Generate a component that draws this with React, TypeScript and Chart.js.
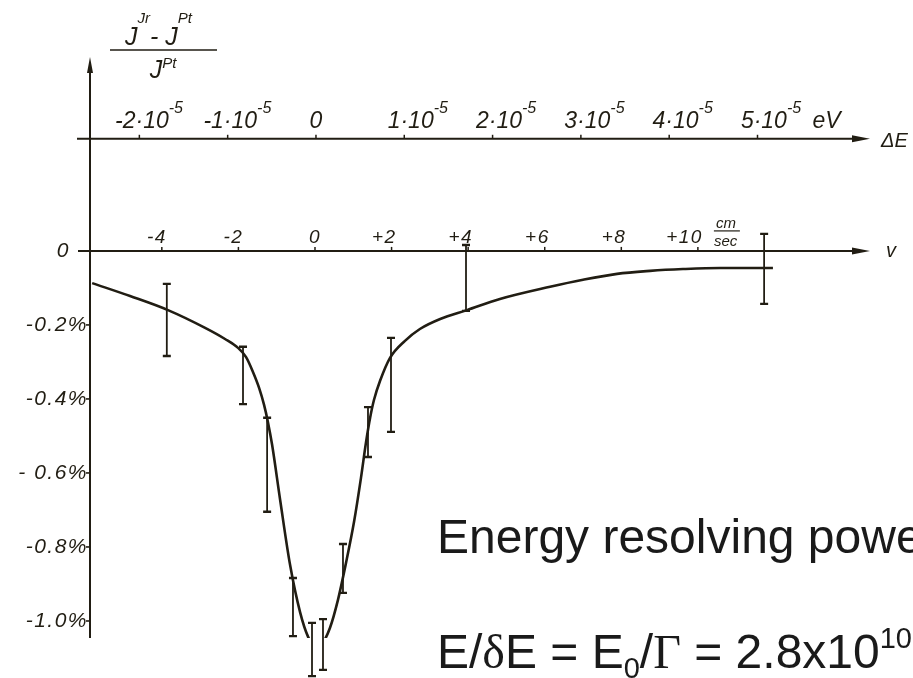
import { useEffect, useRef } from "react";
import { Chart, registerables } from "chart.js";

Chart.register(...registerables);

// Resonance absorption curve: relative intensity change (%) versus source velocity v (cm/sec)
const curveV = [
  -5.82, -4.83, -3.84, -2.87, -2.35, -2.01, -1.8, -1.62, -1.46, -1.33, -1.23, -1.12,
  -0.91, -0.65, -0.39, -0.18, 0.0, 0.18, 0.39, 0.6, 0.81, 1.02, 1.2, 1.33, 1.44, 1.54,
  1.7, 1.96, 2.35, 2.74, 3.27, 3.97, 4.83, 6.14, 7.0, 7.89, 8.75, 9.61, 10.58, 11.96,
];
const curvePct = [
  -0.087, -0.122, -0.16, -0.208, -0.238, -0.262, -0.287, -0.327, -0.37, -0.416, -0.462,
  -0.524, -0.673, -0.849, -0.976, -1.043, -1.07, -1.062, -1.019, -0.943, -0.843, -0.732,
  -0.614, -0.519, -0.451, -0.403, -0.351, -0.289, -0.243, -0.211, -0.184, -0.16, -0.13,
  -0.097, -0.078, -0.062, -0.054, -0.049, -0.046, -0.046,
];

// Measured points with their error bars
const barV = [-3.87, -1.88, -1.25, -0.575, -0.078, 0.209, 0.731, 1.384, 1.985, 3.944, 11.73];
const barHigh = [-0.089, -0.259, -0.451, -0.884, -1.005, -0.995, -0.792, -0.422, -0.235, 0.016, 0.046];
const barLow = [-0.284, -0.414, -0.705, -1.041, -1.149, -1.132, -0.924, -0.557, -0.489, -0.162, -0.143];

// Axis ticks
const velocityTicks = [-4, -2, 0, 2, 4, 6, 8, 10];
const velocityLabels = ["-4", "-2", "0", "+2", "+4", "+6", "+8", "+10"];
const energyTicks = [-2, -1, 0, 1, 2, 3, 4, 5]; // in units of 10^-5 eV
const energyMantissa = ["-2", "-1", "0", "1", "2", "3", "4", "5"];
const pctTicks = [0, -0.2, -0.4, -0.6, -0.8, -1.0];
const pctLabels = ["0", "-0.2%", "-0.4%", "- 0.6%", "-0.8%", "-1.0%"];
const energyAxisLevel = 0.303; // % level where the ΔE axis is drawn

const INK = "#211d13";
const HAND = '"Liberation Sans", Arial, sans-serif';
const SLIDE = '"Liberation Sans", Arial, Helvetica, sans-serif';
const SERIF = '"Liberation Serif", "Times New Roman", serif';

type Run = { t: string; f: string; dy?: number };

function drawRuns(ctx: CanvasRenderingContext2D, x: number, y: number, runs: Run[]) {
  let cx = x;
  ctx.textAlign = "left";
  ctx.textBaseline = "alphabetic";
  for (const r of runs) {
    ctx.font = r.f;
    ctx.fillText(r.t, cx, y + (r.dy || 0));
    cx += ctx.measureText(r.t).width;
  }
  return cx - x;
}

function runsWidth(ctx: CanvasRenderingContext2D, runs: Run[]) {
  let w = 0;
  for (const r of runs) {
    ctx.font = r.f;
    w += ctx.measureText(r.t).width;
  }
  return w;
}

function arrowRight(ctx: CanvasRenderingContext2D, tipX: number, y: number) {
  ctx.beginPath();
  ctx.moveTo(tipX, y);
  ctx.lineTo(tipX - 18, y - 3.5);
  ctx.lineTo(tipX - 18, y + 3.5);
  ctx.closePath();
  ctx.fill();
}

const handAxes = {
  id: "handAxes",
  beforeDatasetsDraw(chart: any) {
    const ctx: CanvasRenderingContext2D = chart.ctx;
    const xs = chart.scales.x;
    const xe = chart.scales.xE;
    const ys = chart.scales.y;
    const area = chart.chartArea;
    ctx.save();
    ctx.strokeStyle = INK;
    ctx.fillStyle = INK;
    ctx.lineCap = "butt";

    // vertical axis with arrow
    const ax = area.left;
    ctx.lineWidth = 2;
    ctx.beginPath();
    ctx.moveTo(ax, area.bottom);
    ctx.lineTo(ax, area.top + 10);
    ctx.stroke();
    ctx.beginPath();
    ctx.moveTo(ax, area.top);
    ctx.lineTo(ax - 3, area.top + 16);
    ctx.lineTo(ax + 3, area.top + 16);
    ctx.closePath();
    ctx.fill();

    // percentage ticks and labels
    ctx.lineWidth = 1.6;
    pctTicks.forEach((v, i) => {
      const py = ys.getPixelForValue(v);
      if (v !== 0) {
        ctx.beginPath();
        ctx.moveTo(ax - 4, py);
        ctx.lineTo(ax, py);
        ctx.stroke();
      }
      ctx.font = `italic 21px ${HAND}`;
      (ctx as any).letterSpacing = "1.5px";
      ctx.textAlign = "right";
      ctx.textBaseline = "middle";
      ctx.fillText(pctLabels[i], v === 0 ? ax - 20 : ax - 2, py);
    });
    (ctx as any).letterSpacing = "0px";

    // velocity axis at zero
    const vy = ys.getPixelForValue(0);
    ctx.lineWidth = 2;
    ctx.beginPath();
    ctx.moveTo(ax - 12, vy);
    ctx.lineTo(area.right - 10, vy);
    ctx.stroke();
    arrowRight(ctx, area.right, vy);
    ctx.lineWidth = 1.5;
    velocityTicks.forEach((t, i) => {
      const px = xs.getPixelForValue(t);
      ctx.beginPath();
      ctx.moveTo(px, vy);
      ctx.lineTo(px, vy - 4);
      ctx.stroke();
      ctx.font = `italic 19px ${HAND}`;
      (ctx as any).letterSpacing = "1.5px";
      ctx.textBaseline = "alphabetic";
      if (t === 0) {
        ctx.textAlign = "center";
        ctx.fillText(velocityLabels[i], px, vy - 8);
      } else {
        ctx.textAlign = "right";
        ctx.fillText(velocityLabels[i], px + 5, vy - 8);
      }
    });
    (ctx as any).letterSpacing = "0px";
    // unit cm/sec as a small fraction after the last tick label
    const unitX = xs.getPixelForValue(10) + 16;
    ctx.font = `italic 15px ${HAND}`;
    ctx.textAlign = "left";
    ctx.fillText("cm", unitX + 2, vy - 23);
    ctx.fillText("sec", unitX, vy - 5);
    ctx.lineWidth = 1.2;
    ctx.beginPath();
    ctx.moveTo(unitX, vy - 20);
    ctx.lineTo(unitX + 26, vy - 20);
    ctx.stroke();
    ctx.font = `italic 20px ${HAND}`;
    ctx.fillText("v", area.right + 16, vy + 6);

    // energy axis
    const ey = ys.getPixelForValue(energyAxisLevel);
    ctx.lineWidth = 2;
    ctx.beginPath();
    ctx.moveTo(ax - 13, ey);
    ctx.lineTo(area.right - 10, ey);
    ctx.stroke();
    arrowRight(ctx, area.right, ey);
    ctx.lineWidth = 1.5;
    energyTicks.forEach((t, i) => {
      const px = xe.getPixelForValue(t);
      ctx.beginPath();
      ctx.moveTo(px, ey);
      ctx.lineTo(px, ey - 4);
      ctx.stroke();
      const main = `italic 23px ${HAND}`;
      const sup = `italic 16px ${HAND}`;
      if (t === 0) {
        ctx.font = main;
        ctx.textAlign = "center";
        ctx.fillText("0", px, ey - 11);
        return;
      }
      ctx.font = main;
      const lead = ctx.measureText(energyMantissa[i]).width + ctx.measureText("·").width / 2;
      drawRuns(ctx, px - lead, ey - 11, [
        { t: energyMantissa[i] + "·10", f: main },
        { t: "-5", f: sup, dy: -15 },
      ]);
    });
    ctx.font = `italic 23px ${HAND}`;
    ctx.textAlign = "left";
    ctx.fillText("eV", xe.getPixelForValue(5) + 55, ey - 11);
    ctx.font = `italic 20px ${HAND}`;
    ctx.fillText("ΔE", area.right + 11, ey + 8);

    // quantity on the vertical axis: (J^Ir - J^Pt) / J^Pt
    const big = `italic 25px ${HAND}`;
    const small = `italic 15px ${HAND}`;
    drawRuns(ctx, ax + 35, 45, [
      { t: "J", f: big },
      { t: "Jr", f: small, dy: -22 },
      { t: "- ", f: big },
      { t: "J", f: big },
      { t: "Pt", f: small, dy: -22 },
    ]);
    ctx.lineWidth = 1.5;
    ctx.beginPath();
    ctx.moveTo(ax + 20, 50);
    ctx.lineTo(ax + 127, 50);
    ctx.stroke();
    const den: Run[] = [
      { t: "J", f: big },
      { t: "Pt", f: small, dy: -10 },
    ];
    drawRuns(ctx, ax + 73 - runsWidth(ctx, den) / 2, 78, den);

    ctx.restore();
  },
  afterDatasetsDraw(chart: any) {
    const ctx: CanvasRenderingContext2D = chart.ctx;
    const xs = chart.scales.x;
    const ys = chart.scales.y;
    ctx.save();
    ctx.strokeStyle = INK;
    barV.forEach((v, i) => {
      const px = xs.getPixelForValue(v);
      const top = ys.getPixelForValue(barHigh[i]);
      const bot = ys.getPixelForValue(barLow[i]);
      ctx.lineWidth = 1.8;
      ctx.beginPath();
      ctx.moveTo(px, top);
      ctx.lineTo(px, bot);
      ctx.stroke();
      ctx.lineWidth = 2.4;
      ctx.beginPath();
      ctx.moveTo(px - 4, top);
      ctx.lineTo(px + 4, top);
      ctx.moveTo(px - 4, bot);
      ctx.lineTo(px + 4, bot);
      ctx.stroke();
    });
    ctx.restore();
  },
  afterDraw(chart: any) {
    const ctx: CanvasRenderingContext2D = chart.ctx;
    ctx.save();
    ctx.fillStyle = "#1a1a1a";
    ctx.textAlign = "left";
    ctx.textBaseline = "alphabetic";
    const f = `48px ${SLIDE}`;
    const fs = `48px ${SERIF}`;
    const sub = `29px ${SLIDE}`;
    ctx.font = f;
    ctx.fillText("Energy resolving power:", 437, 553);
    drawRuns(ctx, 437, 668, [
      { t: "E/", f },
      { t: "δ", f: fs },
      { t: "E = E", f },
      { t: "0", f: sub, dy: 10 },
      { t: "/", f },
      { t: "Γ", f: fs },
      { t: " = 2.8x10", f },
      { t: "10", f: sub, dy: -20 },
    ]);
    ctx.restore();
  },
};

export default function App() {
  const canvasRef = useRef<HTMLCanvasElement | null>(null);

  useEffect(() => {
    const canvas = canvasRef.current;
    if (!canvas) return;
    const chart = new Chart(canvas, {
      type: "line",
      data: {
        datasets: [
          {
            label: "absorption",
            data: curveV.map((v, i) => ({ x: v, y: curvePct[i] })),
            borderColor: INK,
            borderWidth: 2.6,
            pointRadius: 0,
            cubicInterpolationMode: "monotone",
            fill: false,
            xAxisID: "x",
            yAxisID: "y",
          },
        ],
      },
      options: {
        responsive: false,
        animation: false,
        events: [],
        layout: { padding: { left: 90, top: 57, right: 43, bottom: 40 } },
        plugins: {
          legend: { display: false },
          title: { display: false },
          tooltip: { enabled: false },
        },
        scales: {
          x: { type: "linear", min: -5.876, max: 14.495, display: false },
          xE: { type: "linear", axis: "x", min: -2.559, max: 6.274, display: false },
          y: { type: "linear", min: -1.046, max: 0.524, display: false },
        },
      },
      plugins: [handAxes],
    });
    return () => chart.destroy();
  }, []);

  return (
    <div style={{ position: "fixed", left: 0, top: 0, width: 913, height: 678, background: "#ffffff" }}>
      <canvas ref={canvasRef} width={913} height={678} style={{ display: "block" }} />
    </div>
  );
}
